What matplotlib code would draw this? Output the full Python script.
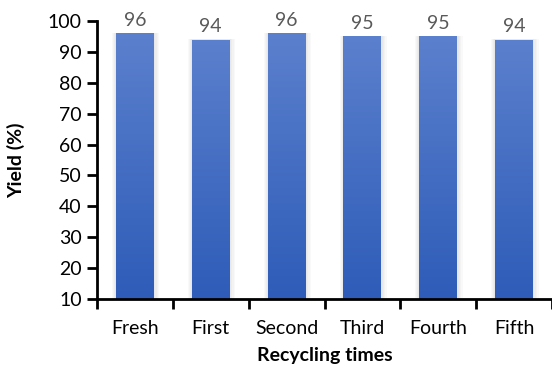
import numpy as np
import matplotlib.pyplot as plt
from matplotlib.colors import LinearSegmentedColormap
from matplotlib.patches import Rectangle

categories = ["Fresh", "First", "Second", "Third", "Fourth", "Fifth"]
yields = [96, 94, 96, 95, 95, 94]
y_ticks = [10, 20, 30, 40, 50, 60, 70, 80, 90, 100]

plt.rcParams['font.family'] = ['Lato', 'DejaVu Sans']

fig = plt.figure(figsize=(5.52, 3.77), dpi=100)
ax = fig.add_axes([97 / 552, 1 - 299 / 377, 1 - 97 / 552, (299 - 21) / 377])

ymin, ymax = 10, 100
ax.set_ylim(ymin, ymax)
ax.set_xlim(-0.5, 5.37)

cmap = LinearSegmentedColormap.from_list("bar", ["#2e5cb8", "#5b80cd"])
grad = np.linspace(0, 1, 256).reshape(-1, 1)
width = 0.5

for i, v in enumerate(yields):
    # faint soft shadow around the bar
    for k in range(4):
        pad = 0.018 * (k + 1)
        ax.add_patch(Rectangle((i - width / 2 - pad * 0.7, ymin), width + pad * 1.7, v - ymin + 0.1,
                               facecolor="black", alpha=0.025, edgecolor="none", zorder=1))
    bar = ax.bar(i, v - ymin, bottom=ymin, width=width, color="none", edgecolor="none", zorder=2)[0]
    im = ax.imshow(grad, cmap=cmap, aspect="auto", origin="lower",
                   extent=(i - width / 2, i + width / 2, ymin, v), zorder=2)
    im.set_clip_path(bar)
    ax.text(i, v + 1.4, f"{v}", ha="center", va="bottom", fontsize=14, color="#595959")

ax.set_xlim(-0.5, 5.37)
ax.set_ylim(ymin, ymax)
ax.set_yticks(y_ticks)
ax.set_xticks(range(len(categories)))
ax.set_xticklabels(categories)
ax.set_xticks(np.arange(-0.5, 6, 1), minor=True)
ax.tick_params(axis="x", which="major", length=0, pad=15, labelsize=14, labelcolor="black")
ax.tick_params(axis="x", which="minor", length=7, width=2, direction="out")
ax.tick_params(axis="y", length=7, width=2, direction="out", labelsize=14, pad=4)

for s in ["top", "right"]:
    ax.spines[s].set_visible(False)
for s in ["left", "bottom"]:
    ax.spines[s].set_linewidth(2)

ax.set_ylabel("Yield (%)", fontsize=14, fontweight="bold", labelpad=16)
ax.set_xlabel("Recycling times", fontsize=14, fontweight="bold", labelpad=7)

fig.savefig("out.png", dpi=100)
